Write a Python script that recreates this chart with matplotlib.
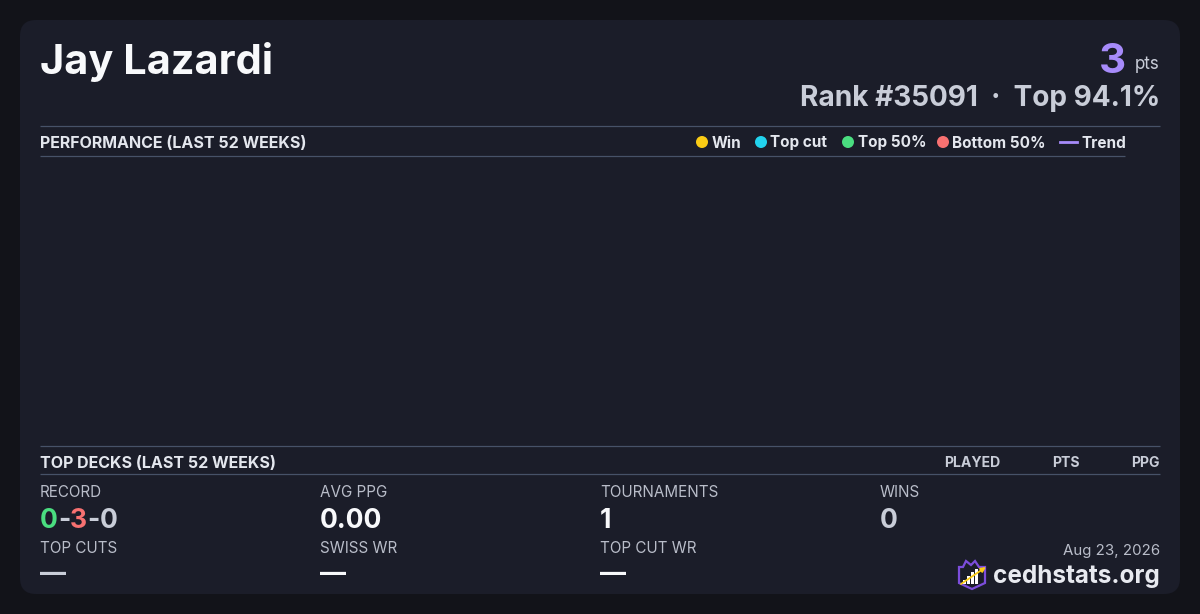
import matplotlib
matplotlib.use("Agg")
import matplotlib.pyplot as plt
from matplotlib.patches import FancyBboxPatch, Circle, Polygon, Rectangle

plt.rcParams['font.family'] = ['Inter', 'DejaVu Sans']

# ---- data ----
player_name = "Jay Lazardi"
points = 3
rank = 35091
top_pct = 94.1
legend_labels = ["Win", "Top cut", "Top 50%", "Bottom 50%"]
legend_colors = ["#facc15", "#22d3ee", "#4ade80", "#f87171"]
trend_label = "Trend"
perf_weeks = []      # no tournament results plotted in the last 52 weeks
perf_points = []
deck_columns = ["PLAYED", "PTS", "PPG"]
record = [0, 3, 0]
avg_ppg = 0.00
tournaments = 1
wins = 0
top_cuts = None
swiss_wr = None
top_cut_wr = None
date_text = "Aug 23, 2026"
site = "cedhstats.org"

W, H = 1200, 614
fig = plt.figure(figsize=(12, 6.14), dpi=100)
fig.patch.set_facecolor("#121319")
ax = fig.add_axes([0, 0, 1, 1])
ax.set_xlim(0, W)
ax.set_ylim(H, 0)
ax.axis("off")

card = FancyBboxPatch((20, 20), 1160, 574, boxstyle="round,pad=0,rounding_size=16",
                      fc="#1b1d29", ec="none")
ax.add_patch(card)

WHITE = "#f8f9fb"
GRAY = "#c9cdd8"
LINE = "#475268"
HEAD = "#e4e7ee"

def px(s):
    return s * 72 / 100

def hline(y, x0, x1):
    ax.plot([x0, x1], [y, y], color=LINE, lw=0.9, solid_capstyle="butt")

ax.text(40, 74, player_name, fontsize=px(41.5), fontweight="bold", color=WHITE, ha="left", va="baseline")
ax.text(1126, 73, str(points), fontsize=px(42), fontweight="bold", color="#a78bfa", ha="right", va="baseline")
ax.text(1160, 69, "pts", fontsize=px(17), color=GRAY, ha="right", va="baseline")
ax.text(1160, 106, f"Rank #{rank}  \u00b7  Top {top_pct}%", fontsize=px(28), fontweight="bold",
        color=GRAY, ha="right", va="baseline")

hline(126, 40, 1160)
ax.text(40, 148, "PERFORMANCE (LAST 52 WEEKS)", fontsize=px(16), fontweight="bold", color=HEAD,
        ha="left", va="baseline")
hline(156, 40, 1125)

lx = [702, 761, 848, 943]
for x, lab, c in zip(lx, legend_labels, legend_colors):
    ax.add_patch(Circle((x, 142), 6, fc=c, ec="none"))
    ax.text(x + 9.5, 147.5, lab, fontsize=px(15.3), fontweight="bold", color=HEAD, ha="left", va="baseline")
ax.plot([1060, 1077], [141.5, 141.5], color="#a78bfa", lw=2)
ax.text(1081, 147.5, trend_label, fontsize=px(15.3), fontweight="bold", color=HEAD, ha="left", va="baseline")

# performance plot area (empty)
pax = fig.add_axes([40 / W, 1 - 446 / H, (1125 - 40) / W, (446 - 157) / H])
pax.set_facecolor("none")
pax.axis("off")
pax.plot(perf_weeks, perf_points, color="#a78bfa")

hline(446, 40, 1160)
ax.text(40, 468, "TOP DECKS (LAST 52 WEEKS)", fontsize=px(16), fontweight="bold", color=HEAD,
        ha="left", va="baseline")
for x, lab in zip([1000, 1080, 1160], deck_columns):
    ax.text(x, 467, lab, fontsize=px(14), fontweight="bold", color=GRAY, ha="right", va="baseline")
hline(474, 40, 1160)

LBL = "#b9bdc9"
cols = [40, 320, 600, 880]
labels1 = ["RECORD", "AVG PPG", "TOURNAMENTS", "WINS"]
for x, l in zip(cols, labels1):
    ax.text(x, 497, l, fontsize=px(15.2), color=LBL, ha="left", va="baseline")
labels2 = ["TOP CUTS", "SWISS WR", "TOP CUT WR"]
for x, l in zip(cols, labels2):
    ax.text(x, 553, l, fontsize=px(15.2), color=LBL, ha="left", va="baseline")

vfs = px(26.5)
parts = [(str(record[0]), "#4ade80"), ("-", GRAY), (str(record[1]), "#f87171"), ("-", GRAY), (str(record[2]), GRAY)]
fig.canvas.draw()
r = fig.canvas.get_renderer()
xcur = 40
for s, c in parts:
    t = ax.text(xcur, 528, s, fontsize=vfs, fontweight="bold", color=c, ha="left", va="baseline")
    bb = t.get_window_extent(renderer=r)
    xcur += bb.width
ax.text(320, 528, f"{avg_ppg:.2f}", fontsize=vfs, fontweight="bold", color=WHITE, ha="left", va="baseline")
ax.text(600, 528, str(tournaments), fontsize=vfs, fontweight="bold", color=WHITE, ha="left", va="baseline")
ax.text(880, 528, str(wins), fontsize=vfs, fontweight="bold", color=GRAY, ha="left", va="baseline")

for x, v, c in zip(cols[:3], [top_cuts, swiss_wr, top_cut_wr], [GRAY, WHITE, WHITE]):
    ax.text(x, 582, "\u2014" if v is None else str(v), fontsize=px(26), fontweight="bold",
            color=c, ha="left", va="baseline")

ax.text(1160, 555, date_text, fontsize=px(15), color=LBL, ha="right", va="baseline")
ax.text(1160, 583, site, fontsize=px(24.3), fontweight="bold", color="#e8eaf0", ha="right", va="baseline")

# logo
shield = Polygon([(959, 567), (963, 567), (966, 561), (971, 565), (975, 561), (979, 567), (985, 567),
                  (985, 583), (972, 589), (959, 583)], closed=True, fc="#1b1d29", ec="#7c4ddb", lw=1.6)
ax.add_patch(shield)
for bx, bh in [(963, 4), (967, 8), (971, 12), (975, 15)]:
    ax.add_patch(Rectangle((bx, 584 - bh), 3, bh, fc="white", ec="none"))
ax.annotate("", xy=(986, 567), xytext=(961, 584),
            arrowprops=dict(arrowstyle="-|>", color="#facc15", lw=1.3, mutation_scale=7,
                            shrinkA=0, shrinkB=0))

fig.savefig("out.png", dpi=100, facecolor=fig.get_facecolor())
